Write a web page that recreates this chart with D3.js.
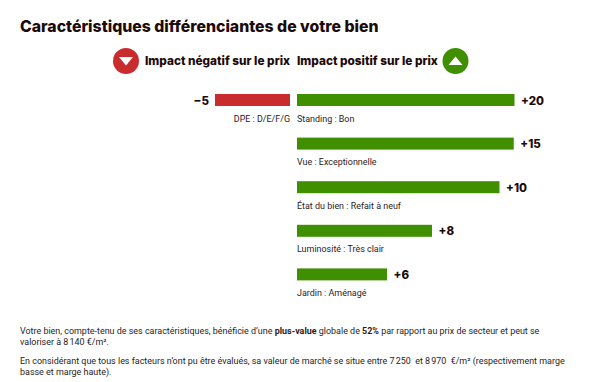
<!DOCTYPE html>
<html lang="fr">
<head>
<meta charset="UTF-8">
<title>Caractéristiques différenciantes</title>
<script src="https://d3js.org/d3.v7.min.js"></script>
<style>
  html, body { margin: 0; padding: 0; background: #fff; }
  svg { display: block; }
  .head { font-family: Inter, sans-serif; font-weight: 800; fill: #1d0a0a; }
  .body { font-family: Roboto, sans-serif; font-size: 8.95px; fill: #2a1c1c; }
</style>
</head>
<body>
<div id="chart"></div>
<script>
// printed labels and the bar lengths (they do not follow each other exactly)
const posLabels = ["Standing : Bon", "Vue : Exceptionnelle", "État du bien : Refait à neuf", "Luminosité : Très clair", "Jardin : Aménagé"];
const posPrinted = ["+20", "+15", "+10", "+8", "+6"];
const posLengths = [14.5, 14.45, 13.5, 9, 6];
const negLabels = ["DPE : D/E/F/G"];
const negPrinted = ["−5"];
const negLengths = [5];

const title = "Caractéristiques différenciantes de votre bien";
const negHead = "Impact négatif sur le prix";
const posHead = "Impact positif sur le prix";

const width = 591, height = 382;
const red = "#c92c2c", green = "#3f8f00";

const svg = d3.select("#chart").append("svg").attr("width", width).attr("height", height);

const xPos = d3.scaleLinear().domain([0, 20]).range([297, 597]);
const xNeg = d3.scaleLinear().domain([0, 20]).range([290, -10]);

svg.append("text").attr("class", "head").attr("x", 20).attr("y", 32).attr("font-size", 15.8).text(title);

// header icons
function badge(cx, col, up) {
  svg.append("circle").attr("cx", cx).attr("cy", 61).attr("r", 13).attr("fill", col);
  const s = up ? -1 : 1;
  svg.append("path").attr("fill", "#fff")
    .attr("d", `M${cx - 7},${61 - 4 * s}L${cx + 7},${61 - 4 * s}L${cx},${61 + 4.5 * s}Z`);
}
badge(126, red, false);
badge(455.5, green, true);

svg.append("text").attr("class", "head").attr("x", 145).attr("y", 65).attr("font-size", 11.8).text(negHead);
svg.append("text").attr("class", "head").attr("x", 297).attr("y", 65).attr("font-size", 11.8).text(posHead);

const rowY = i => 94 + i * 43.6;

// positive bars
svg.selectAll("rect.pos").data(posLengths).enter().append("rect").attr("class", "pos")
  .attr("x", xPos(0)).attr("y", (d, i) => rowY(i)).attr("height", 12)
  .attr("width", d => xPos(d) - xPos(0)).attr("fill", green);

svg.selectAll("text.posv").data(posPrinted).enter().append("text").attr("class", "head posv")
  .attr("x", (d, i) => xPos(posLengths[i]) + 6.5).attr("y", (d, i) => rowY(i) + 10.5)
  .attr("font-size", 11.5).text(d => d);

svg.selectAll("text.posl").data(posLabels).enter().append("text").attr("class", "body posl")
  .attr("x", 297).attr("y", (d, i) => rowY(i) + 27.5).text(d => d);

// negative bars
svg.selectAll("rect.neg").data(negLengths).enter().append("rect").attr("class", "neg")
  .attr("x", d => xNeg(d)).attr("y", (d, i) => rowY(i)).attr("height", 12)
  .attr("width", d => xNeg(0) - xNeg(d)).attr("fill", red);

svg.selectAll("text.negv").data(negPrinted).enter().append("text").attr("class", "head negv")
  .attr("x", (d, i) => xNeg(negLengths[i]) - 6).attr("y", (d, i) => rowY(i) + 10.5)
  .attr("text-anchor", "end").attr("font-size", 11.5).text(d => d);

svg.selectAll("text.negl").data(negLabels).enter().append("text").attr("class", "body negl")
  .attr("x", 290).attr("y", (d, i) => rowY(i) + 27.5).attr("text-anchor", "end").text(d => d);

// footer paragraphs
const l1 = svg.append("text").attr("class", "body").attr("x", 20).attr("y", 334);
l1.append("tspan").text("Votre bien, compte-tenu de ses caractéristiques, bénéficie d’une ");
l1.append("tspan").attr("font-weight", 700).text("plus-value");
l1.append("tspan").text(" globale de ");
l1.append("tspan").attr("font-weight", 700).text("52%");
l1.append("tspan").text(" par rapport au prix de secteur et peut se");
svg.append("text").attr("class", "body").attr("x", 20).attr("y", 345).text("valoriser à 8\u202f140\u00a0€/m².");
svg.append("text").attr("class", "body").attr("x", 20).attr("y", 364)
  .style("white-space", "pre")
  .text("En considérant que tous les facteurs n’ont pu être évalués, sa valeur de marché se situe entre 7\u202f250\u00a0 et 8\u202f970\u00a0 €/m² (respectivement marge");
svg.append("text").attr("class", "body").attr("x", 20).attr("y", 375).text("basse et marge haute).");
</script>
</body>
</html>
